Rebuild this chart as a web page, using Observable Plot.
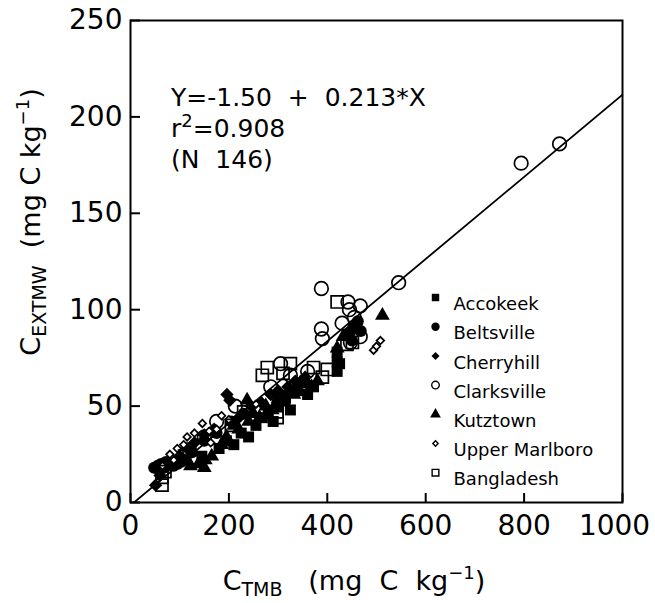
<!DOCTYPE html>
<html><head><meta charset="utf-8">
<script src="https://cdn.jsdelivr.net/npm/d3@7"></script>
<script src="https://cdn.jsdelivr.net/npm/@observablehq/plot@0.6"></script>
<style>
body{margin:0;background:#fff}
#chart{width:655px;height:603px}
svg text{white-space:pre}
</style></head><body><div id="chart"></div>
<script>
// ---- data (C_TMB, C_EXTMW) in mg C kg-1 ----
const seriesNames = ["Accokeek","Beltsville","Cherryhill","Clarksville","Kutztown","Upper Marlboro","Bangladesh"];
const accokeek = [[145,24],[180,28],[195,32],[210,30],[225,36],[240,34],[255,40],[268,44],[280,46],[290,42],[300,50],[315,54],[325,48],[340,58],[350,62],[360,56],[372,60],[420,68],[420,73],[420,78],[425,72],[460,90]];
const beltsville = [[48,18],[55,19],[62,20],[68,18],[75,19],[82,20],[88,19],[95,20],[102,21],[58,17],[72,21],[110,22],[125,26],[150,32],[175,36],[205,42],[230,46],[445,88],[455,92],[462,94],[450,84],[468,89]];
const cherryhill = [[51,9],[60,14],[100,24],[115,28],[130,31],[150,35],[170,38],[196,56],[202,53],[220,44],[245,50],[265,52],[285,56],[300,58],[320,60],[335,63],[355,65],[92,22]];
const clarksville = [[794,176],[872,186],[545,114],[388,111],[388,90],[390,85],[305,72],[442,104],[445,100],[467,102],[447,83],[467,86],[213,50],[150,34],[325,66],[285,60],[300,55],[360,68],[430,93],[455,96],[120,27],[175,42]];
const kutztown = [[512,97],[122,19],[150,18],[152,22],[165,24],[185,30],[195,34],[210,40],[220,38],[237,53],[250,46],[262,44],[275,50],[288,48],[300,54],[312,52],[322,58],[332,56],[345,62],[355,64],[368,60],[380,63],[420,80],[432,86],[138,20],[240,42]];
const upperMarlboro = [[80,25],[95,28],[115,34],[146,41],[163,31],[175,38],[200,43],[88,22],[130,36],[108,30],[494,79],[500,81],[508,84],[255,51],[185,45],[65,19],[160,37]];
const bangladesh = [[64,13],[64,9],[70,16],[268,66],[278,70],[325,72],[298,47],[298,44],[372,70],[390,65],[420,104],[451,83],[440,82],[345,60],[230,47],[205,40],[310,67],[110,24],[400,69]];
const xTicks = [0,200,400,600,800,1000];
const yTicks = [0,50,100,150,200,250];
const intercept = -1.50, slope = 0.213;
const fitX = [0, 1000];
const eqText = ["Y=-1.50  +  0.213*X", "=0.908", "(N  146)"];

// ---- styles ----
const styles = [
  {data: accokeek, symbol: "square", fill: "black", stroke: "none", r: 6.2, lr: 4.2},
  {data: beltsville, symbol: "circle", fill: "black", stroke: "none", r: 6.0, lr: 4.2},
  {data: cherryhill, symbol: "diamond2", fill: "black", stroke: "none", r: 6.0, lr: 3.6},
  {data: clarksville, symbol: "circle", fill: "none", stroke: "black", r: 6.8, lr: 3.8},
  {data: kutztown, symbol: "triangle", fill: "black", stroke: "none", r: 5.5, lr: 4.0},
  {data: upperMarlboro, symbol: "diamond2", fill: "white", stroke: "black", r: 3.4, lr: 2.4},
  {data: bangladesh, symbol: "square", fill: "none", stroke: "black", r: 6.8, lr: 3.8}
];

const W = 655, H = 603, mL = 130, mR = 33, mT = 20, mB = 101;
const fw = W - mL - mR, fh = H - mT - mB;

const marks = [];
styles.forEach(s => {
  marks.push(Plot.dot(s.data, {x: d => d[0], y: d => d[1], symbol: s.symbol, fill: s.fill, stroke: s.stroke, r: s.r, strokeWidth: 1.7}));
});
marks.push(Plot.line(fitX.map(x => ({x, y: intercept + slope * x})), {x: "x", y: "y", stroke: "black", strokeWidth: 1.8, clip: true}));
marks.push(Plot.tickX(xTicks, {x: d => d, insetTop: fh - 9, strokeWidth: 2}));
marks.push(Plot.tickY(yTicks, {y: d => d, insetRight: fw - 10, strokeWidth: 2}));
marks.push(Plot.frame({stroke: "black", strokeWidth: 2}));
// axes (tick labels)
marks.push(Plot.axisX(xTicks.slice(0, -1), {tickSize: 0, tickPadding: 13, label: null, tickFormat: d => String(d)}));
marks.push(Plot.axisX(xTicks.slice(-1), {tickSize: 0, tickPadding: 13, label: null, dx: -8, tickFormat: d => String(d)}));
marks.push(Plot.axisY(yTicks, {tickSize: 0, tickPadding: 8, label: null, tickFormat: d => String(d)}));
// legend
styles.forEach((s, i) => {
  marks.push(Plot.dot([0], {frameAnchor: "top-left", dx: 305, dy: 277 + i * 29.2, symbol: s.symbol, fill: s.fill, stroke: s.stroke, r: s.lr, strokeWidth: 1.4}));
  marks.push(Plot.text([seriesNames[i]], {text: d => d, frameAnchor: "top-left", dx: 323, dy: 277 + i * 29.2, textAnchor: "start", fontSize: 18, fill: "black"}));
});

const svg = Plot.plot({
  width: W, height: H,
  marginLeft: mL, marginRight: mR, marginTop: mT, marginBottom: mB,
  style: {fontFamily: "DejaVu Sans", fontSize: "28px", color: "black", background: "white"},
  x: {domain: [0, 1000], axis: null},
  y: {domain: [0, 250], axis: null},
  marks
});

const g = d3.select(svg);
// y-axis label
const yl = g.append("text").attr("transform", "translate(40,222) rotate(-90)").attr("text-anchor", "middle")
  .attr("font-family", "DejaVu Sans").attr("fill", "black");
yl.append("tspan").attr("font-size", 27).text("C");
yl.append("tspan").attr("font-size", 19).attr("dy", 6).text("EXTMW");
yl.append("tspan").attr("font-size", 27).attr("dy", -6).text("  (mg C kg");
yl.append("tspan").attr("font-size", 18).attr("dy", -11).text("−1");
yl.append("tspan").attr("font-size", 27).attr("dy", 11).text(")");
// x-axis label
const xl = g.append("text").attr("x", 354).attr("y", 590).attr("text-anchor", "middle")
  .attr("font-family", "DejaVu Sans").attr("fill", "black");
xl.append("tspan").attr("font-size", 27).text("C");
xl.append("tspan").attr("font-size", 19).attr("dy", 6).text("TMB");
xl.append("tspan").attr("font-size", 27).attr("dy", -6).text("   (mg  C  kg");
xl.append("tspan").attr("font-size", 18).attr("dy", -11).text("−1");
xl.append("tspan").attr("font-size", 27).attr("dy", 11).text(")");
// equation
const eq = g.append("g").attr("font-family", "DejaVu Sans").attr("font-size", 25).attr("fill", "black").attr("text-anchor", "start");
eq.append("text").attr("x", 171).attr("y", 106).text(eqText[0]);
const r2 = eq.append("text").attr("x", 171).attr("y", 137);
r2.append("tspan").text("r");
r2.append("tspan").attr("font-size", 18).attr("dy", -10).text("2");
r2.append("tspan").attr("dy", 10).text(eqText[1]);
eq.append("text").attr("x", 171).attr("y", 168).text(eqText[2]);

document.getElementById("chart").appendChild(svg);
</script></body></html>
